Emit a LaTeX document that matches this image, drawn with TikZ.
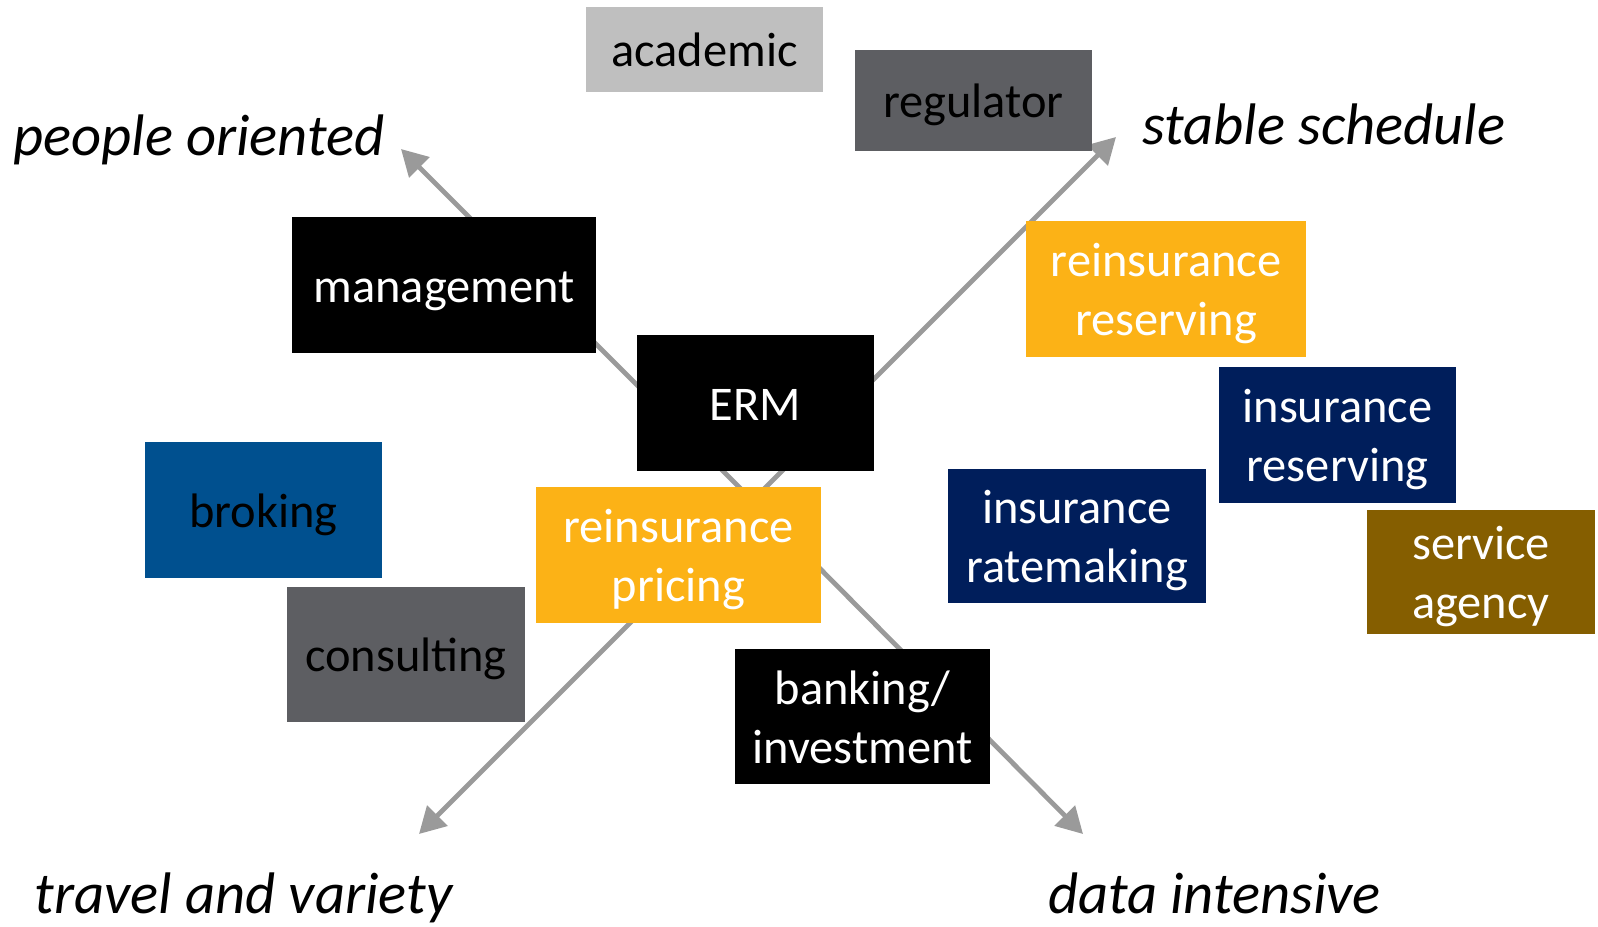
\documentclass[tikz,border=0pt]{standalone}
\usepackage{fontspec}
\setmainfont{Carlito}
\usetikzlibrary{arrows.meta}
\definecolor{spokegray}{HTML}{9A9A9A}
\definecolor{lightgray}{HTML}{BFBFBF}
\definecolor{darkgray}{HTML}{5D5E62}
\definecolor{amber}{HTML}{FCB216}
\definecolor{navy}{HTML}{001E5B}
\definecolor{brokeblue}{HTML}{00508F}
\definecolor{bronze}{HTML}{855E00}
\newcommand{\ls}{\rule[-5pt]{0pt}{27pt}}

\begin{document}
\begin{tikzpicture}[x=0.5pt,y=-0.5pt,
    job/.style={rectangle,inner sep=0pt,align=center,
        minimum width=118.5pt,minimum height=68pt,
        font=\fontsize{24.2}{29.5}\selectfont},
    spoke/.style={draw=spokegray,line width=2.4pt,
        -{Triangle[length=13pt,width=14pt]}},
    pole/.style={inner sep=0pt,anchor=base,
        font=\fontsize{29.3}{34}\selectfont\itshape}]
    \useasboundingbox (0,0) rectangle (1598,926);

    \coordinate (hub) at (752.5,500.5);
    \coordinate (nw) at (401,149);
    \coordinate (ne) at (1116,137);
    \coordinate (sw) at (419,834);
    \coordinate (se) at (1083,834);

    \draw[spoke] (hub) -- (nw);
    \draw[spoke] (hub) -- (ne);
    \draw[spoke] (hub) -- (sw);
    \draw[spoke] (hub) -- (se);

    \node[pole] (people) at (199,155) {people oriented};
    \node[pole] (stable) at (1324,144) {stable schedule};
    \node[pole] (travel) at (243.5,913) {travel and variety};
    \node[pole] (data) at (1214.5,913) {data intensive};

    \node[job,fill=lightgray,minimum height=42.5pt] (academic) at (704.5,49.5) {\ls academic};
    \node[job,fill=darkgray,minimum height=50.5pt] (regulator) at (973.5,100.5) {\ls regulator};
    \node[job,fill=black,text=white,minimum width=152pt] (management) at (444,285) {\ls management};
    \node[job,fill=black,text=white] (erm) at (755.5,403) {\ls ERM};
    \node[job,fill=amber,text=white,minimum width=140pt] (reinsres) at (1166,289) {\ls reinsurance\\\ls reserving};
    \node[job,fill=navy,text=white] (insres) at (1337.5,434.5) {\ls insurance\\\ls reserving};
    \node[job,fill=navy,text=white,minimum width=129pt,minimum height=67pt] (insrate) at (1077,536) {\ls insurance\\\ls ratemaking};
    \node[job,fill=bronze,text=white,minimum width=114pt,minimum height=62pt] (agency) at (1481,572) {\ls service\\\ls agency};
    \node[job,fill=brokeblue] (broking) at (263.5,510) {\ls broking};
    \node[job,fill=darkgray,minimum width=119pt,minimum height=67.5pt] (consulting) at (406,654.5) {\ls consulting};
    \node[job,fill=amber,text=white,minimum width=142.5pt] (reinspric) at (678.5,555) {\ls reinsurance\\\ls pricing};
    \node[job,fill=black,text=white,minimum width=127.5pt,minimum height=67.5pt] (banking) at (862.5,716.5) {\ls banking/\\\ls investment};
\end{tikzpicture}
\end{document}
